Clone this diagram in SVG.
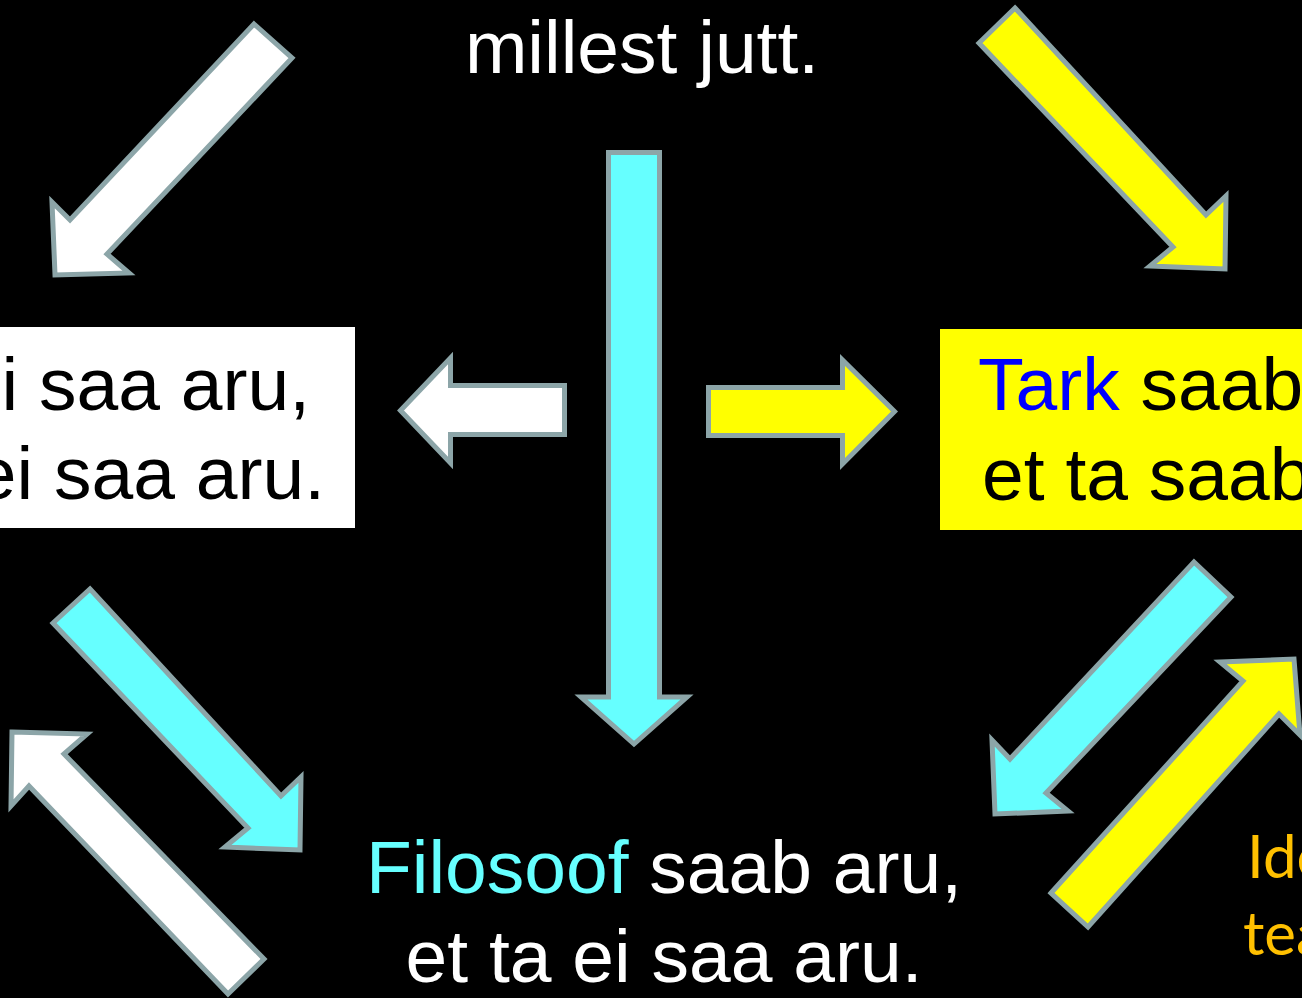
<svg xmlns="http://www.w3.org/2000/svg" width="1302" height="998" viewBox="0 0 1302 998">
<style>
.arw{stroke:#8CA5A8;stroke-width:5;stroke-linejoin:miter}
.w{fill:#FFFFFF}.c{fill:#66FFFF}.y{fill:#FFFF00}
.t{font-family:"Liberation Sans",Arial,sans-serif;font-size:75px}
.o{font-family:Lato,"Open Sans",sans-serif;font-size:60px;fill:#FFC000}
</style>
<rect x="0" y="0" width="1302" height="998" fill="#000000"/>
<g id="top-text">
<text class="t" x="642" y="73" text-anchor="middle" fill="#FFFFFF">millest jutt.</text>
</g>
<g id="left-box">
<rect x="-10" y="327" width="365" height="201" fill="#FFFFFF"/>
<text class="t" x="310" y="410" text-anchor="end" fill="#000000">ei saa aru,</text>
<text class="t" x="325" y="499" text-anchor="end" fill="#000000">ei saa aru.</text>
</g>
<g id="right-box">
<rect x="940" y="329" width="372" height="201" fill="#FFFF00"/>
<text class="t" x="978" y="410" fill="#000000"><tspan fill="#0000FF">Tark</tspan> saab</text>
<text class="t" x="982" y="500" fill="#000000">et ta saab</text>
</g>
<g id="bottom-text">
<text class="t" x="664" y="893" text-anchor="middle" fill="#FFFFFF"><tspan fill="#66FFFF">Filosoof</tspan> saab aru,</text>
<text class="t" x="664" y="982" text-anchor="middle" fill="#FFFFFF">et ta ei saa aru.</text>
</g>
<g id="corner-text">
<text class="o" x="1247" y="878">Ide</text>
<text class="o" x="1243" y="955">tea</text>
</g>
<g id="connectors">
<polygon class="arw c" points="608.5,152.5 659.5,152.5 659.5,697 687,697 634,744 581,697 608.5,697"/>
<polygon class="arw w" points="400.5,410.5 450.5,358 450.5,385.5 564.5,385.5 564.5,434.5 450.5,434.5 450.5,463"/>
<polygon class="arw y" points="708.5,387.5 842.5,387.5 842.5,360 894.5,411.5 842.5,464 842.5,435.5 708.5,435.5"/>
<polygon class="arw w" points="254,24 292,58 107,254 129,273 55,275 52,202 70,220"/>
<polygon class="arw y" points="1015,8 1206,215 1226,196 1225,269 1150,266 1173,247 979,43"/>
<polygon class="arw c" points="90,589 281,796 301,777 300,850 225,847 248,828 53,623"/>
<polygon class="arw w" points="12,732 87,734 64,754 264,959 228,994 29,786 11,806"/>
<polygon class="arw c" points="1194,562 1231,597 1046,793 1068,811 995,814 992,740 1010,759"/>
<polygon class="arw y" points="1051,893 1243,681 1220,662 1294,659 1300,735 1279,714 1088,927"/>
</g>
</svg>
